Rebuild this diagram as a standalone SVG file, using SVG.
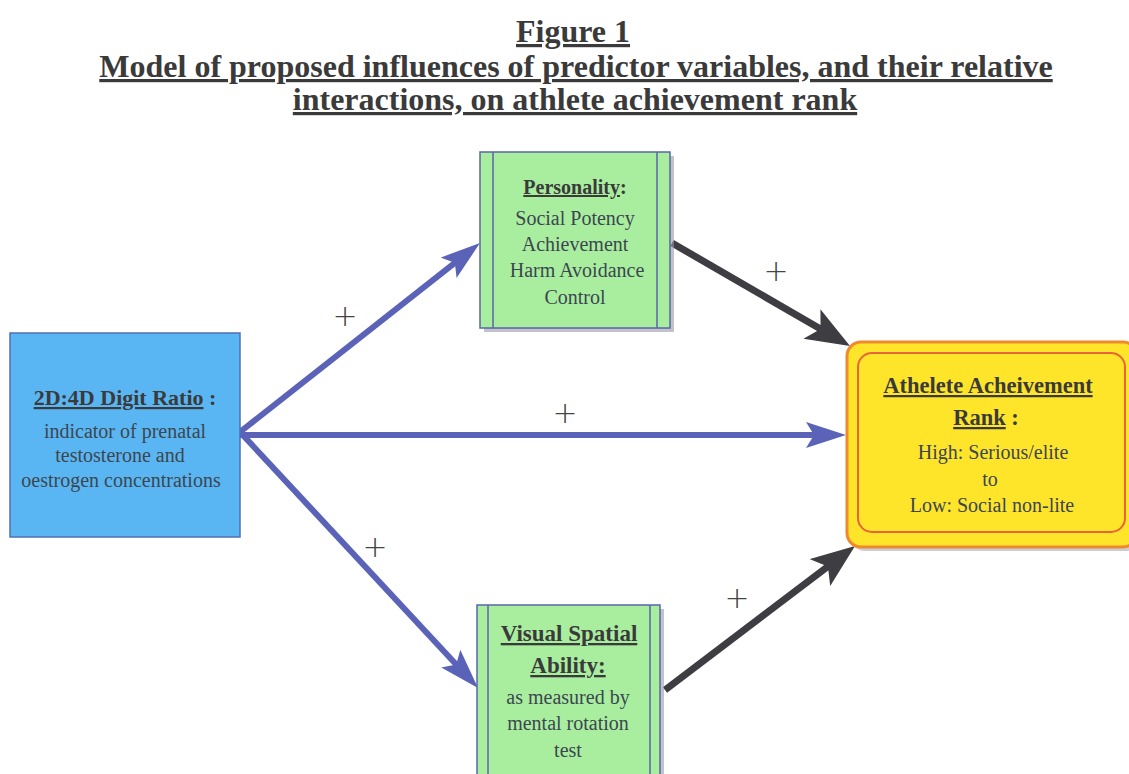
<svg xmlns="http://www.w3.org/2000/svg" width="1129" height="774" viewBox="0 0 1129 774" font-family="'Liberation Serif', 'Times New Roman', serif">
<style>
  .title, .lbl, .body { font-family: "Liberation Serif", "Times New Roman", serif; text-anchor: middle; }
  .title { font-size: 32px; font-weight: bold; fill: #3a3a3a; text-decoration: underline; }
  .lbl { font-weight: bold; fill: #3a3a3a; }
  .u { text-decoration: underline; }
  .body { font-size: 20px; fill: #3c4650; }
  .plus { font-family: "DejaVu Sans", sans-serif; font-size: 30px; fill: #444; font-weight: 300; text-anchor: middle; }
  .blue { stroke: #5a63b8; stroke-width: 6; fill: none; }
  .dark { stroke: #3d3d42; stroke-width: 7; fill: none; }
  .green { fill: #a9ee9f; stroke: #5a66a8; stroke-width: 1.5; }
  .shadow { fill: #9a9aa8; opacity: 0.6; }
</style>
<defs>
  <marker id="ab" markerUnits="userSpaceOnUse" markerWidth="42" markerHeight="28" refX="10" refY="13" orient="auto">
    <path d="M0,0 L40,13 L0,26 L8,13 z" fill="#5a63b8"/>
  </marker>
  <marker id="ad" markerUnits="userSpaceOnUse" markerWidth="46" markerHeight="36" refX="12" refY="17" orient="auto">
    <path d="M0,0 L44,17 L0,34 L10,17 z" fill="#3d3d42"/>
  </marker>
</defs>
<rect width="1129" height="774" fill="#ffffff"/>

<g id="title">
  <text class="title" font-family="Liberation Serif, serif" x="573" y="42">Figure 1</text>
  <text class="title" font-family="Liberation Serif, serif" x="576" y="77">Model of proposed influences of predictor variables, and their relative</text>
  <text class="title" font-family="Liberation Serif, serif" x="575" y="110">interactions, on athlete achievement rank</text>
</g>

<g id="connectors">
  <path class="blue" d="M240,432 L456.4,261.6" marker-end="url(#ab)"/>
  <path class="blue" d="M240,435 L816,435" marker-end="url(#ab)"/>
  <path class="blue" d="M240,432 L457.6,666" marker-end="url(#ab)"/>
  <path class="dark" d="M672,243 L822.3,330" marker-end="url(#ad)"/>
  <path class="dark" d="M665,690 L829.5,565.3" marker-end="url(#ad)"/>
  <text class="plus" x="345" y="326">+</text>
  <text class="plus" x="565" y="423">+</text>
  <text class="plus" x="375" y="557">+</text>
  <text class="plus" x="776" y="281">+</text>
  <text class="plus" x="737" y="608">+</text>
</g>

<g id="digit-ratio" font-family="Liberation Serif, serif">
  <rect x="10" y="333" width="230" height="204" fill="#5ab6f2" stroke="#4f70b5" stroke-width="1.5"/>
  <text class="lbl" x="125" y="405" font-size="22"><tspan class="u">2D:4D Digit Ratio</tspan> :</text>
  <text class="body" x="125" y="438" font-size="20.5">indicator of prenatal</text>
  <text class="body" x="120" y="462" font-size="20.5">testosterone and</text>
  <text class="body" x="121" y="487" font-size="20.5">oestrogen concentrations</text>
</g>

<g id="personality" font-family="Liberation Serif, serif">
  <rect class="shadow" x="484" y="156" width="190" height="176"/>
  <rect class="green" x="480" y="152" width="190" height="176"/>
  <line x1="493" y1="152" x2="493" y2="328" stroke="#5a66a8" stroke-width="1.5"/>
  <line x1="657" y1="152" x2="657" y2="328" stroke="#5a66a8" stroke-width="1.5"/>
  <text class="lbl" x="575" y="194" font-size="20"><tspan class="u">Personality</tspan>:</text>
  <text class="body" x="575" y="225">Social Potency</text>
  <text class="body" x="575" y="251">Achievement</text>
  <text class="body" x="577" y="277">Harm Avoidance</text>
  <text class="body" x="575" y="304">Control</text>
</g>

<g id="visual-spatial" font-family="Liberation Serif, serif">
  <rect class="shadow" x="481" y="609" width="183" height="170"/>
  <rect class="green" x="477" y="605" width="183" height="170"/>
  <line x1="488" y1="605" x2="488" y2="774" stroke="#5a66a8" stroke-width="1.5"/>
  <line x1="650" y1="605" x2="650" y2="774" stroke="#5a66a8" stroke-width="1.5"/>
  <text class="lbl u" x="569" y="641" font-size="23">Visual Spatial </text>
  <text class="lbl" x="568" y="673" font-size="23"><tspan class="u">Ability:</tspan></text>
  <text class="body" x="568" y="704">as measured by</text>
  <text class="body" x="568" y="730">mental rotation</text>
  <text class="body" x="568" y="757">test</text>
</g>

<g id="athlete-rank" font-family="Liberation Serif, serif">
  <rect x="851" y="346" width="290" height="205" rx="14" fill="#9a9aa8" opacity="0.5"/>
  <rect x="847" y="342" width="290" height="205" rx="14" fill="#ffe52a" stroke="#f0882c" stroke-width="3"/>
  <rect x="858" y="353" width="267" height="179" rx="14" fill="none" stroke="#e8643a" stroke-width="2"/>
  <text class="lbl u" x="988" y="393" font-size="22.5">Athelete Acheivement </text>
  <text class="lbl" x="986" y="425" font-size="22.5"><tspan class="u"> Rank</tspan> :</text>
  <text class="body" x="993" y="459">High: Serious/elite</text>
  <text class="body" x="990" y="486">to</text>
  <text class="body" x="992" y="512">Low: Social non-lite</text>
</g>
</svg>
